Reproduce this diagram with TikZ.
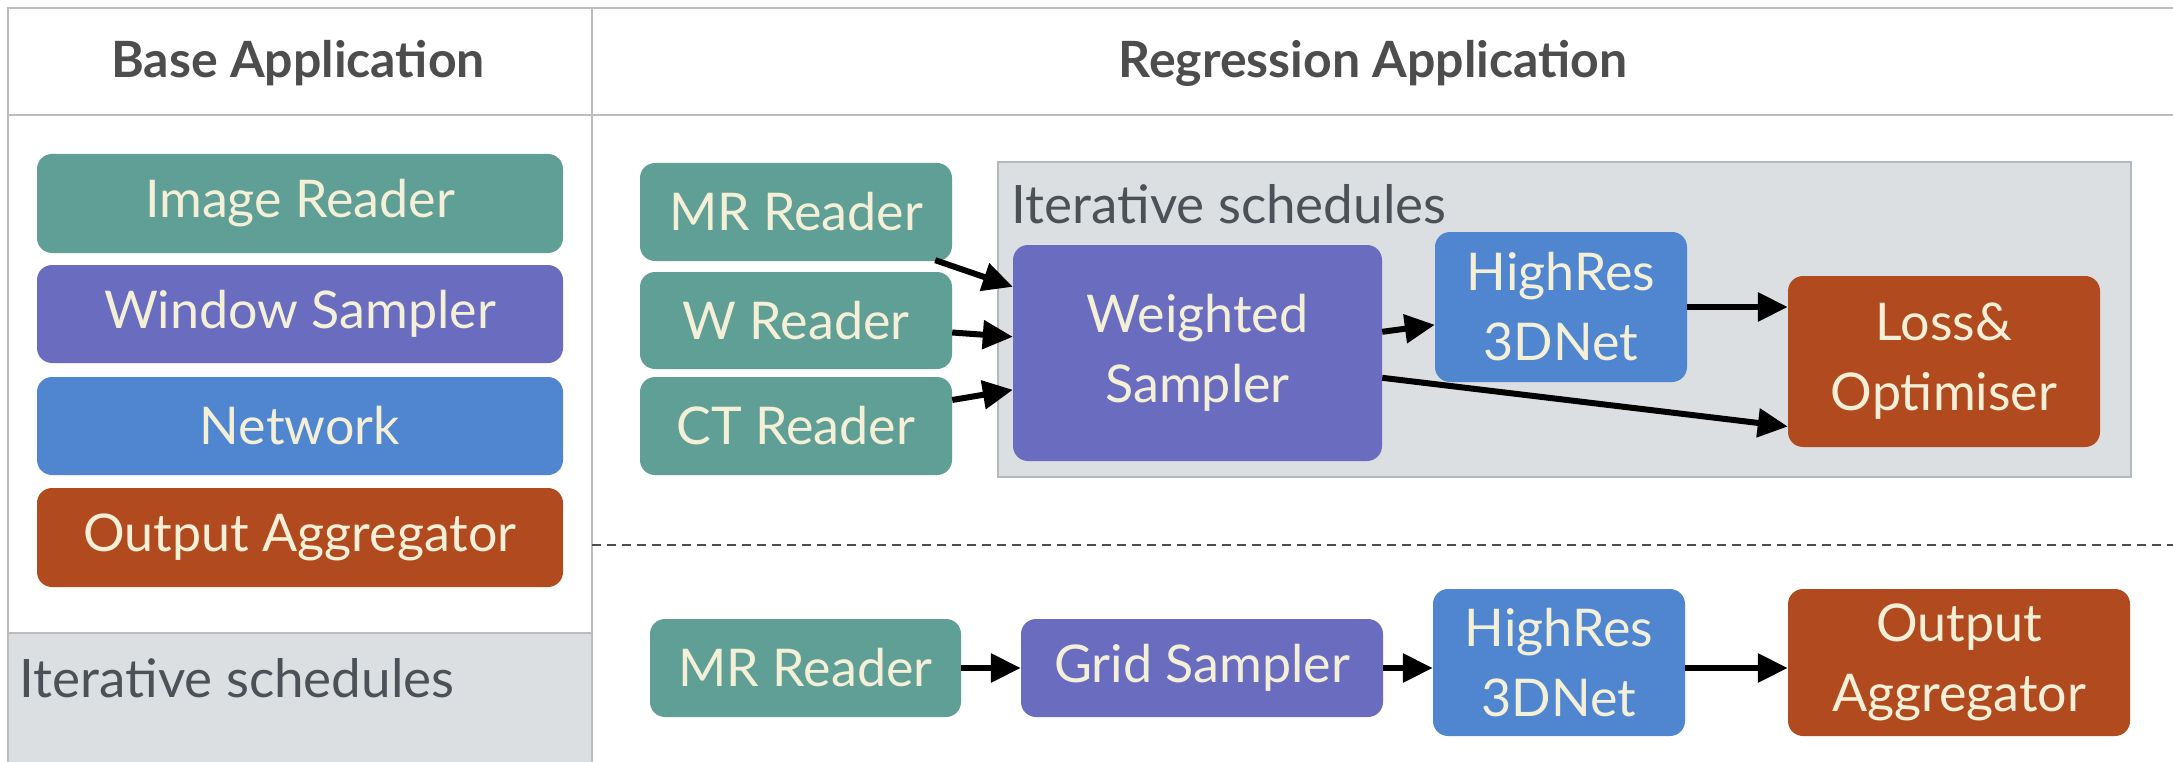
\documentclass[tikz,border=0pt]{standalone}
\usepackage{fontspec}
\setmainfont{Lato}
\usetikzlibrary{arrows.meta}
\definecolor{teal1}{HTML}{5F9F95}
\definecolor{purp1}{HTML}{6A6CBF}
\definecolor{blue1}{HTML}{4F86CF}
\definecolor{rust1}{HTML}{B14B1F}
\definecolor{greybg}{HTML}{DBDFE2}
\definecolor{greyline}{HTML}{B4B8BB}
\definecolor{framecol}{HTML}{BDBDBD}
\definecolor{cream}{HTML}{F4F0D8}
\definecolor{headtxt}{HTML}{4D4D4D}
\definecolor{itertxt}{HTML}{4B5157}
\tikzset{
  x=1pt, y=-1pt,
  blk/.style={rounded corners=15pt, inner sep=0pt, text=cream, align=center,
    font=\fontsize{52}{70}\selectfont},
  tealbox/.style={blk, fill=teal1},
  purpbox/.style={blk, fill=purp1},
  bluebox/.style={blk, fill=blue1},
  rustbox/.style={blk, fill=rust1},
  arr/.style={line width=6pt, -{Triangle[length=30pt,width=28pt]}},
  framel/.style={draw=framecol, line width=2.5pt},
  headlbl/.style={anchor=base, text=headtxt, font=\fontsize{50}{58}\selectfont\bfseries},
  iterlbl/.style={anchor=base west, text=itertxt, font=\fontsize{53}{60}\selectfont},
}
\begin{document}
\begin{tikzpicture}
\useasboundingbox (0,0) rectangle (2173,762);
\fill[white] (0,0) rectangle (2173,762);
% left grey region
\fill[greybg] (8,633) rectangle (592,762);
\draw[framel] (8,633) -- (592,633);
% frame
\draw[framel] (8,762) -- (8,8) -- (2173,8);
\draw[framel] (8,115) -- (2173,115);
\draw[framel] (592,8) -- (592,762);
% dashed separator
\draw[headtxt, line width=2pt, dash pattern=on 9pt off 6pt] (592,545) -- (2173,545);
% right grey region
\draw[fill=greybg, draw=greyline, line width=2pt] (998,162) rectangle (2131,477);

% headers
\node[headlbl] (hbase) at (298,78) {Base Application};
\node[headlbl] (hreg) at (1373,78) {Regression Application};
\node[iterlbl] (iterL) at (16,697) {Iterative schedules};
\node[iterlbl] (iterR) at (1008,223) {Iterative schedules};

% left column
\node[tealbox, minimum width=526pt, minimum height=99pt] (imgr) at (300,203.5) {Image Reader};
\node[purpbox, minimum width=526pt, minimum height=98pt] (wins) at (300,314) {Window Sampler};
\node[bluebox, minimum width=526pt, minimum height=98pt] (net) at (300,426) {Network};
\node[rustbox, minimum width=526pt, minimum height=99pt] (outa) at (300,537.5) {Output Aggregator};

% training row
\node[tealbox, minimum width=312pt, minimum height=98pt] (mr1) at (796,212) {MR Reader};
\node[tealbox, minimum width=312pt, minimum height=97pt] (wr) at (796,320.5) {W Reader};
\node[tealbox, minimum width=312pt, minimum height=98pt] (ct) at (796,426) {CT Reader};
\node[purpbox, minimum width=369pt, minimum height=216pt] (ws) at (1197.5,353) {Weighted\\Sampler};
\node[bluebox, minimum width=252pt, minimum height=150pt] (hr1) at (1561,307) {HighRes\\3DNet};
\node[rustbox, minimum width=312pt, minimum height=171pt] (loss) at (1944,361.5) {Loss\&\\Optimiser};

% inference row
\node[tealbox, minimum width=311pt, minimum height=98pt] (mr2) at (805.5,668) {MR Reader};
\node[purpbox, minimum width=362pt, minimum height=98pt] (grid) at (1202,668) {Grid Sampler};
\node[bluebox, minimum width=252pt, minimum height=147pt] (hr2) at (1559,662.5) {HighRes\\3DNet};
\node[rustbox, minimum width=342pt, minimum height=147pt] (outb) at (1959,662.5) {Output\\Aggregator};

% arrows training
\draw[arr] ([xshift=-17pt,yshift=1pt]mr1.south east) -- ([yshift=-42pt]ws.north west);
\draw[arr] ([yshift=-12pt]wr.east) -- ([yshift=-92pt]ws.north west);
\draw[arr] ([yshift=26pt]ct.east) -- ([yshift=-145pt]ws.north west);
\draw[arr] ([yshift=-87pt]ws.north east) -- ([yshift=-93pt]hr1.north west);
\draw[arr] (hr1.east) -- (hr1.east -| loss.west);
\draw[arr] ([yshift=-133pt]ws.north east) -- ([yshift=-65pt]loss.west);

% arrows inference
\draw[arr] (mr2.east) -- (grid.west);
\draw[arr] (grid.east) -- (grid.east -| hr2.west);
\draw[arr] (hr2.east |- grid.east) -- (outb.west |- grid.east);
\end{tikzpicture}
\end{document}
